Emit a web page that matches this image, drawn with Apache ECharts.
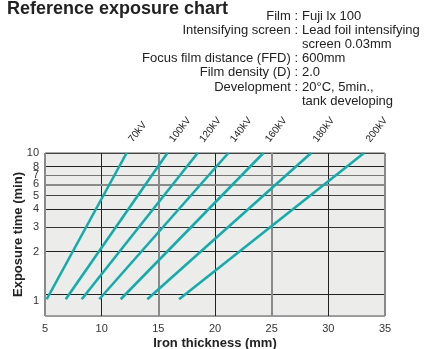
<!DOCTYPE html>
<html>
<head>
<meta charset="utf-8">
<script src="https://cdn.jsdelivr.net/npm/echarts@6/dist/echarts.min.js"></script>
<style>html,body{margin:0;padding:0;background:#fff;}#c{width:436px;height:349px;}</style>
</head>
<body>
<div id="c"></div>
<script>
const kvLabels = ['70kV', '100kV', '120kV', '140kV', '160kV', '180kV', '200kV'];
const startThickness = [5.15, 6.83, 8.24, 9.79, 11.68, 14.03, 16.83];
const endThickness = [12.2, 15.8, 18.47, 21.18, 24.27, 28.48, 33.15];
const startTime = [0.92, 0.92, 0.92, 0.92, 0.92, 0.92, 0.92];
const endTime = [10, 10, 10, 10, 10, 10, 10];
const yTickValues = [1, 2, 3, 4, 5, 6, 7, 8, 10];
const xTickStep = 5;
const titleText = 'Reference exposure chart';
const infoKeys = ['Film :', 'Intensifying screen :', '', 'Focus film distance (FFD) :', 'Film density (D) :', 'Development :', ''];
const infoVals = ['Fuji lx 100', 'Lead foil intensifying', 'screen 0.03mm', '600mm', '2.0', '20°C, 5min.,', 'tank developing'];

const FONT = '"Liberation Sans", Arial, Helvetica, sans-serif';
const TEAL = '#16abab';
const GRAY = '#8a8a8a';

const series = kvLabels.map((name, i) => ({
  type: 'line',
  name: name,
  symbol: 'circle',
  symbolSize: 0,
  showSymbol: true,
  silent: true,
  animation: false,
  z: 5,
  lineStyle: { color: TEAL, width: 2.6 },
  itemStyle: { color: TEAL },
  data: [
    [startThickness[i], startTime[i]],
    {
      value: [endThickness[i], endTime[i]],
      label: {
        show: true,
        formatter: name,
        position: [4, -12],
        rotate: 52,
        align: 'left',
        verticalAlign: 'middle',
        fontSize: 10,
        fontFamily: FONT,
        color: '#222'
      }
    }
  ]
}));

series.push({
  type: 'line',
  data: [],
  silent: true,
  z: 3,
  markLine: {
    silent: true,
    symbol: 'none',
    label: { show: false },
    animation: false,
    data: [
      { xAxis: 5, lineStyle: { color: GRAY, width: 2, type: 'solid' } },
      { xAxis: 15, lineStyle: { color: GRAY, width: 2, type: 'solid' } },
      { xAxis: 25, lineStyle: { color: GRAY, width: 2, type: 'solid' } },
      { xAxis: 35, lineStyle: { color: GRAY, width: 2, type: 'solid' } },
      { yAxis: 6, lineStyle: { color: GRAY, width: 2, type: 'solid' } },
      { yAxis: 0.7, lineStyle: { color: '#999', width: 1, type: 'solid' } }
    ]
  }
});

const chart = echarts.init(document.getElementById('c'), null, { renderer: 'canvas' });
chart.setOption({
  animation: false,
  textStyle: { fontFamily: FONT },
  grid: {
    left: 45, right: 51, top: 153, bottom: 33,
    outerBoundsMode: 'none',
    containLabel: false,
    show: true, backgroundColor: '#ececeb', borderColor: '#555', borderWidth: 1
  },
  xAxis: {
    type: 'value',
    min: 5, max: 35, interval: xTickStep,
    name: 'Iron thickness (mm)',
    nameLocation: 'middle',
    nameGap: 21,
    nameMoveOverlap: false,
    nameTextStyle: { fontSize: 13, fontWeight: 'bold', color: '#222', fontFamily: FONT },
    axisLine: { show: false },
    axisTick: { show: false },
    axisLabel: { fontSize: 11, color: '#333', margin: 7, fontFamily: FONT },
    splitLine: { show: true, lineStyle: { color: ['#444', '#222', GRAY, '#222', GRAY, '#222', '#444'], width: 1 } }
  },
  yAxis: {
    type: 'log',
    logBase: 10,
    min: 0.7, max: 10,
    name: 'Exposure time (min)',
    nameLocation: 'middle',
    nameGap: 20,
    nameMoveOverlap: false,
    nameTextStyle: { fontSize: 13, fontWeight: 'bold', color: '#222', fontFamily: FONT },
    axisLine: { show: false },
    axisTick: { show: false, customValues: yTickValues },
    axisLabel: {
      customValues: yTickValues,
      fontSize: 11, color: '#333', margin: 6, fontFamily: FONT,
      formatter: v => (Math.abs(v - 1) < 1e-9 ? '{low|1}' : String(Math.round(v))),
      rich: { low: { fontSize: 11, color: '#333', padding: [14, 0, 0, 0], fontFamily: FONT } }
    },
    splitLine: { show: true, lineStyle: { color: ['#222', '#222', '#333', '#222', '#444', GRAY, '#777', '#222', '#444'], width: 1 } }
  },
  graphic: [
    { type: 'text', left: 7, top: 0, style: { text: titleText, font: 'bold 18px ' + FONT, fill: '#222' } },
    { type: 'text', x: 298, y: 9, style: { text: infoKeys.join('\n'), font: '13px ' + FONT, fill: '#222', align: 'right', lineHeight: 14.2 } },
    { type: 'text', x: 302, y: 9, style: { text: infoVals.join('\n'), font: '13px ' + FONT, fill: '#222', align: 'left', lineHeight: 14.2 } }
  ],
  series: series
});
</script>
</body>
</html>
